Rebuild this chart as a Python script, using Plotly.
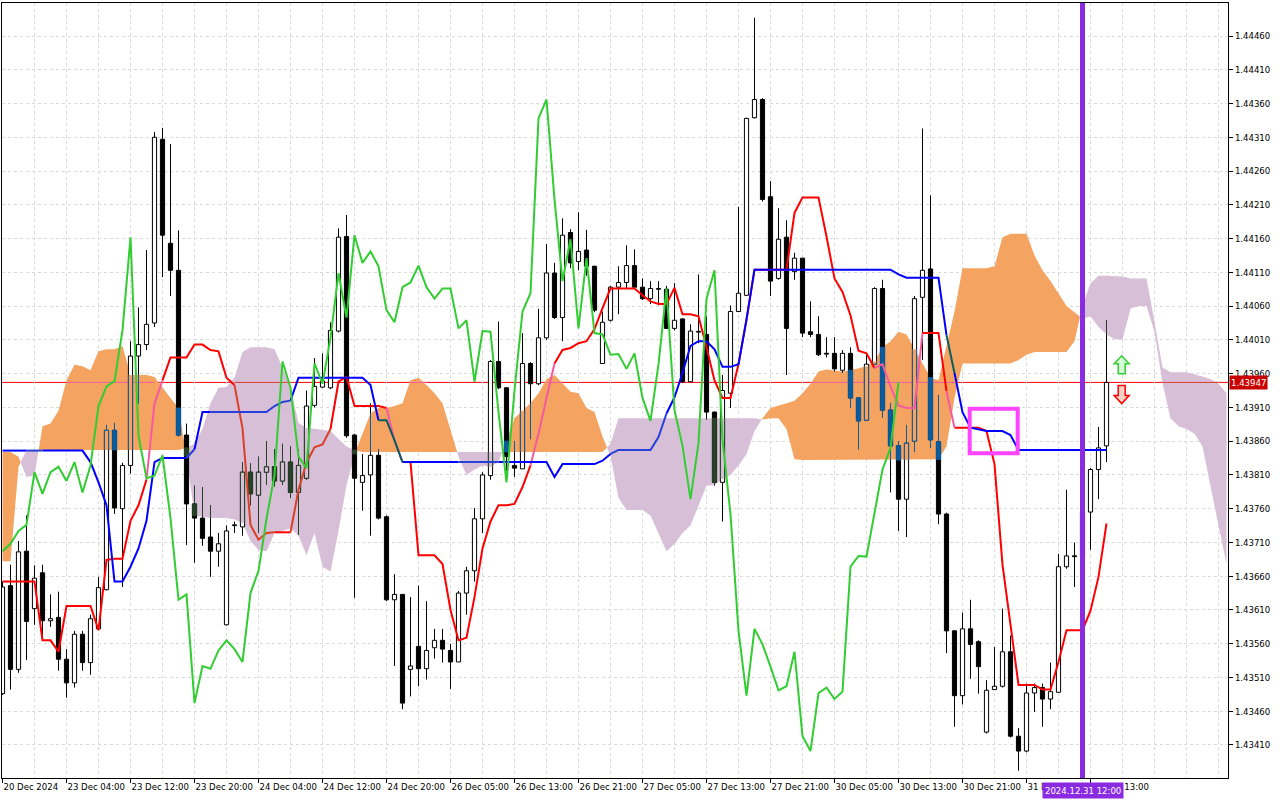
import plotly.graph_objects as go

# hourly candles (20 Dec 2024 20:00 ... 31 Dec 2024 14:00)
opens = [
    1.43486, 1.43646, 1.43522, 1.43697, 1.43612, 1.43665, 1.43594, 1.43599, 1.43537, 1.43502,
    1.43574, 1.43532, 1.43582, 1.43640, 1.43876, 1.43760, 1.43824, 1.43986, 1.44003, 1.44035,
    1.44307, 1.44153, 1.44113, 1.43869, 1.43767, 1.43746, 1.43718, 1.43697, 1.43588, 1.43735,
    1.43733, 1.43814, 1.43780, 1.43814, 1.43822, 1.43801, 1.43829, 1.43784, 1.43805, 1.43913,
    1.43940, 1.43939, 1.44023, 1.44163, 1.43869, 1.43799, 1.43810, 1.43839, 1.43748, 1.43625,
    1.43633, 1.43522, 1.43556, 1.43523, 1.43554, 1.43565, 1.43550, 1.43533, 1.43635, 1.43668,
    1.43745, 1.43809, 1.43978, 1.43939, 1.43824, 1.43819, 1.43975, 1.43945, 1.44013, 1.44109,
    1.44043, 1.44169, 1.44126, 1.44143, 1.44119, 1.43975, 1.44039, 1.44088, 1.44095, 1.44120,
    1.44088, 1.44071, 1.44085, 1.44085, 1.44027, 1.44041, 1.43948, 1.44022, 1.44018, 1.43903,
    1.43799, 1.43931, 1.44052, 1.44076, 1.44339, 1.44366, 1.44222, 1.44101, 1.44162, 1.44111,
    1.44131, 1.44022, 1.44018, 1.43990, 1.43990, 1.43965, 1.43990, 1.43924, 1.43891, 1.43974,
    1.44086, 1.43906, 1.43853, 1.43774, 1.43860, 1.44073, 1.44115, 1.43859, 1.43752, 1.43579,
    1.43483, 1.43582, 1.43563, 1.43429, 1.43492, 1.43497, 1.43548, 1.43423, 1.43401, 1.43487,
    1.43495, 1.43478, 1.43488, 1.43674, 1.43690, 1.43690, 1.43755, 1.43818, 1.43853,
]
highs = [
    1.43652, 1.43677, 1.43712, 1.43750, 1.43676, 1.43677, 1.43633, 1.43637, 1.43552, 1.43579,
    1.43579, 1.43603, 1.43659, 1.43884, 1.43887, 1.43828, 1.44008, 1.44058, 1.44143, 1.44318,
    1.44324, 1.44300, 1.44172, 1.43886, 1.43794, 1.43792, 1.43765, 1.43724, 1.43735, 1.43741,
    1.43829, 1.43827, 1.43837, 1.43860, 1.43848, 1.43856, 1.43852, 1.43848, 1.43935, 1.43983,
    1.43990, 1.44036, 1.44175, 1.44195, 1.43871, 1.43841, 1.43916, 1.43848, 1.43750, 1.43663,
    1.43633, 1.43629, 1.43646, 1.43623, 1.43582, 1.43582, 1.43560, 1.43638, 1.43674, 1.43761,
    1.43814, 1.43980, 1.44037, 1.43940, 1.43860, 1.44020, 1.43977, 1.44056, 1.44152, 1.44124,
    1.44190, 1.44174, 1.44199, 1.44173, 1.44120, 1.44052, 1.44090, 1.44119, 1.44150, 1.44144,
    1.44101, 1.44097, 1.44097, 1.44090, 1.44094, 1.44042, 1.44033, 1.44107, 1.44045, 1.43904,
    1.43958, 1.44061, 1.44207, 1.44339, 1.44487, 1.44368, 1.44245, 1.44205, 1.44187, 1.44139,
    1.44131, 1.44067, 1.44045, 1.44014, 1.44014, 1.43995, 1.43999, 1.43925, 1.43988, 1.44088,
    1.44099, 1.43916, 1.43860, 1.43884, 1.44075, 1.44323, 1.44224, 1.43928, 1.43754, 1.43580,
    1.43606, 1.43625, 1.43565, 1.43506, 1.43555, 1.43612, 1.43572, 1.43435, 1.43501, 1.43501,
    1.43501, 1.43532, 1.43693, 1.43788, 1.43710, 1.43776, 1.43820, 1.43881, 1.44039,
]
lows = [
    1.43484, 1.43492, 1.43517, 1.43536, 1.43588, 1.43572, 1.43585, 1.43520, 1.43480, 1.43495,
    1.43520, 1.43514, 1.43580, 1.43639, 1.43752, 1.43644, 1.43812, 1.43916, 1.43995, 1.44029,
    1.44103, 1.44075, 1.43867, 1.43706, 1.43680, 1.43705, 1.43659, 1.43674, 1.43587, 1.43724,
    1.43720, 1.43765, 1.43724, 1.43795, 1.43793, 1.43795, 1.43776, 1.43721, 1.43803, 1.43910,
    1.43939, 1.43937, 1.44021, 1.43865, 1.43628, 1.43757, 1.43720, 1.43744, 1.43623, 1.43527,
    1.43463, 1.43482, 1.43497, 1.43507, 1.43538, 1.43532, 1.43493, 1.43533, 1.43603, 1.43652,
    1.43724, 1.43803, 1.43937, 1.43816, 1.43807, 1.43819, 1.43863, 1.43943, 1.44010, 1.44041,
    1.44008, 1.44116, 1.44113, 1.44105, 1.44051, 1.43975, 1.44037, 1.44048, 1.44086, 1.44088,
    1.44069, 1.44063, 1.44061, 1.44026, 1.44024, 1.43946, 1.43948, 1.44005, 1.43892, 1.43794,
    1.43741, 1.43909, 1.44051, 1.44075, 1.44338, 1.44215, 1.44075, 1.44099, 1.43958, 1.44099,
    1.44014, 1.44014, 1.43986, 1.43984, 1.43963, 1.43961, 1.43909, 1.43848, 1.43890, 1.43973,
    1.43895, 1.43784, 1.43727, 1.43718, 1.43844, 1.43980, 1.43850, 1.43737, 1.43546, 1.43437,
    1.43470, 1.43508, 1.43486, 1.43427, 1.43492, 1.43495, 1.43421, 1.43372, 1.43399, 1.43459,
    1.43437, 1.43463, 1.43488, 1.43671, 1.43644, 1.43674, 1.43699, 1.43774, 1.43829,
]
closes = [
    1.43644, 1.43522, 1.43696, 1.43593, 1.43657, 1.43594, 1.43597, 1.43537, 1.43502, 1.43574,
    1.43532, 1.43597, 1.43643, 1.43876, 1.43761, 1.43824, 1.43986, 1.44003, 1.44033, 1.44310,
    1.44165, 1.44113, 1.43869, 1.43767, 1.43746, 1.43716, 1.43697, 1.43708, 1.43727, 1.43736,
    1.43814, 1.43782, 1.43814, 1.43822, 1.43801, 1.43829, 1.43784, 1.43824, 1.43912, 1.43941,
    1.43949, 1.44024, 1.44162, 1.43868, 1.43805, 1.43809, 1.43839, 1.43746, 1.43625, 1.43633,
    1.43472, 1.43527, 1.43523, 1.43550, 1.43565, 1.43552, 1.43533, 1.43635, 1.43668, 1.43745,
    1.43810, 1.43978, 1.43939, 1.43837, 1.43820, 1.43975, 1.43945, 1.44013, 1.44109, 1.44043,
    1.44165, 1.44124, 1.44141, 1.44119, 1.44054, 1.44036, 1.44088, 1.44095, 1.44120, 1.44088,
    1.44071, 1.44086, 1.44086, 1.44027, 1.44039, 1.43948, 1.44023, 1.44022, 1.43903, 1.43799,
    1.43935, 1.44052, 1.44079, 1.44338, 1.44366, 1.44218, 1.44097, 1.44159, 1.44027, 1.44131,
    1.44020, 1.44018, 1.43988, 1.43989, 1.43967, 1.43990, 1.43924, 1.43890, 1.43974, 1.44086,
    1.43906, 1.43853, 1.43774, 1.43857, 1.44071, 1.44113, 1.43862, 1.43752, 1.43579, 1.43483,
    1.43582, 1.43559, 1.43526, 1.43491, 1.43497, 1.43548, 1.43423, 1.43401, 1.43487, 1.43495,
    1.43478, 1.43489, 1.43674, 1.43690, 1.43689, 1.43755, 1.43818, 1.43850, 1.43947,
]

# Ichimoku lines, one value per bar
tenkan = [
    1.43652, 1.43652, 1.43652, 1.43652, 1.43652, 1.43565, 1.43565, 1.43548, 1.43616, 1.43616,
    1.43616, 1.43616, 1.43580, 1.43684, 1.43686, 1.43686, 1.43742, 1.43765, 1.43803, 1.43916,
    1.43950, 1.43984, 1.43984, 1.43984, 1.44003, 1.44003, 1.43995, 1.43993, 1.43954, 1.43943,
    1.43879, 1.43736, 1.43714, 1.43724, 1.43725, 1.43725, 1.43725, 1.43788, 1.43828, 1.43851,
    1.43855, 1.43878, 1.43948, 1.43955, 1.43912, 1.43912, 1.43912, 1.43912, 1.43909, 1.43861,
    1.43829, 1.43829, 1.43691, 1.43691, 1.43691, 1.43678, 1.43610, 1.43565, 1.43569, 1.43629,
    1.43701, 1.43741, 1.43765, 1.43765, 1.43767, 1.43792, 1.43824, 1.43871, 1.43924, 1.43975,
    1.43995, 1.43998, 1.44005, 1.44008, 1.44026, 1.44057, 1.44086, 1.44086, 1.44086, 1.44086,
    1.44076, 1.44067, 1.44063, 1.44063, 1.44087, 1.44048, 1.44048, 1.44045, 1.43999, 1.43950,
    1.43924, 1.43924, 1.43974, 1.44040, 1.44114, 1.44114, 1.44114, 1.44114, 1.44114, 1.44198,
    1.44221, 1.44221, 1.44221, 1.44163, 1.44101, 1.44081, 1.44046, 1.43994, 1.43990, 1.43968,
    1.43974, 1.43941, 1.43913, 1.43909, 1.43909, 1.44020, 1.44020, 1.44020, 1.43934, 1.43880,
    1.43880, 1.43880, 1.43880, 1.43875, 1.43826, 1.43677, 1.43588, 1.43499, 1.43499, 1.43499,
    1.43492, 1.43492, 1.43533, 1.43580, 1.43580, 1.43580, 1.43609, 1.43659, 1.43738,
]
kijun = [
    1.43846, 1.43846, 1.43846, 1.43846, 1.43846, 1.43846, 1.43846, 1.43846, 1.43846, 1.43846,
    1.43846, 1.43829, 1.43799, 1.43765, 1.43652, 1.43652, 1.43674, 1.43701, 1.43742, 1.43829,
    1.43835, 1.43835, 1.43835, 1.43835, 1.43848, 1.43903, 1.43903, 1.43903, 1.43903, 1.43903,
    1.43903, 1.43903, 1.43903, 1.43903, 1.43912, 1.43918, 1.43920, 1.43954, 1.43954, 1.43954,
    1.43954, 1.43954, 1.43954, 1.43954, 1.43954, 1.43954, 1.43943, 1.43891, 1.43891, 1.43861,
    1.43829, 1.43829, 1.43829, 1.43829, 1.43829, 1.43829, 1.43829, 1.43829, 1.43829, 1.43829,
    1.43829, 1.43829, 1.43829, 1.43829, 1.43829, 1.43829, 1.43829, 1.43829, 1.43829, 1.43807,
    1.43826, 1.43826, 1.43826, 1.43826, 1.43826, 1.43831, 1.43841, 1.43847, 1.43847, 1.43847,
    1.43847, 1.43847, 1.43866, 1.43901, 1.43925, 1.43961, 1.44001, 1.44008, 1.44008, 1.43996,
    1.43970, 1.43970, 1.43974, 1.44040, 1.44114, 1.44114, 1.44114, 1.44114, 1.44114, 1.44114,
    1.44114, 1.44114, 1.44114, 1.44114, 1.44114, 1.44114, 1.44114, 1.44114, 1.44114, 1.44114,
    1.44114, 1.44114, 1.44107, 1.44102, 1.44102, 1.44102, 1.44102, 1.44102, 1.44017, 1.43961,
    1.43903, 1.43880, 1.43878, 1.43875, 1.43875, 1.43875, 1.43869, 1.43847, 1.43847, 1.43847,
    1.43847, 1.43847, 1.43847, 1.43847, 1.43847, 1.43847, 1.43847, 1.43847, 1.43847,
]
# lagging line, drawn from bar 0 to bar 112
chikou = [
    1.43697, 1.43708, 1.43727, 1.43736, 1.43814, 1.43782, 1.43814, 1.43822, 1.43801, 1.43829,
    1.43784, 1.43824, 1.43912, 1.43941, 1.43949, 1.44024, 1.44162, 1.43868, 1.43805, 1.43809,
    1.43839, 1.43746, 1.43625, 1.43633, 1.43472, 1.43527, 1.43523, 1.43550, 1.43565, 1.43552,
    1.43533, 1.43635, 1.43668, 1.43745, 1.43810, 1.43978, 1.43939, 1.43837, 1.43820, 1.43975,
    1.43945, 1.44013, 1.44109, 1.44043, 1.44165, 1.44124, 1.44141, 1.44119, 1.44054, 1.44036,
    1.44088, 1.44095, 1.44120, 1.44088, 1.44071, 1.44086, 1.44086, 1.44027, 1.44039, 1.43948,
    1.44023, 1.44022, 1.43903, 1.43799, 1.43935, 1.44052, 1.44079, 1.44338, 1.44366, 1.44218,
    1.44097, 1.44159, 1.44027, 1.44131, 1.44020, 1.44018, 1.43988, 1.43989, 1.43967, 1.43990,
    1.43924, 1.43890, 1.43974, 1.44086, 1.43906, 1.43853, 1.43774, 1.43857, 1.44071, 1.44113,
    1.43862, 1.43752, 1.43579, 1.43483, 1.43582, 1.43559, 1.43526, 1.43491, 1.43497, 1.43548,
    1.43423, 1.43401, 1.43487, 1.43495, 1.43478, 1.43489, 1.43674, 1.43690, 1.43689, 1.43755,
    1.43818, 1.43850, 1.43947,
]
# cloud edges, running 26 bars past the last candle
span_a = [
    1.43844, 1.43844, 1.43837, 1.43807, 1.43809, 1.43882, 1.43886, 1.43905, 1.43950, 1.43973,
    1.43971, 1.43965, 1.43993, 1.43996, 1.43996, 1.44001, 1.43958, 1.43958, 1.43958, 1.43955,
    1.43939, 1.43924, 1.43909, 1.43838, 1.43750, 1.43748, 1.43746, 1.43746, 1.43746, 1.43744,
    1.43739, 1.43712, 1.43699, 1.43697, 1.43724, 1.43727, 1.43731, 1.43720, 1.43691, 1.43724,
    1.43674, 1.43667, 1.43727, 1.43795, 1.43841, 1.43871, 1.43901, 1.43909, 1.43909, 1.43912,
    1.43916, 1.43950, 1.43954, 1.43943, 1.43931, 1.43916, 1.43878, 1.43837, 1.43810, 1.43818,
    1.43824, 1.43822, 1.43829, 1.43860, 1.43894, 1.43905, 1.43916, 1.43931, 1.43952, 1.43958,
    1.43945, 1.43933, 1.43931, 1.43909, 1.43903, 1.43867, 1.43838, 1.43776, 1.43758, 1.43758,
    1.43758, 1.43750, 1.43724, 1.43697, 1.43708, 1.43724, 1.43735, 1.43765, 1.43794, 1.43795,
    1.43804, 1.43810, 1.43824, 1.43841, 1.43875, 1.43894, 1.43909, 1.43912, 1.43916, 1.43920,
    1.43931, 1.43945, 1.43963, 1.43966, 1.43965, 1.43963, 1.43965, 1.43968, 1.43971, 1.43978,
    1.43999, 1.44008, 1.44022, 1.44018, 1.43996, 1.43975, 1.43954, 1.43950, 1.43999, 1.44052,
    1.44116, 1.44116, 1.44116, 1.44116, 1.44119, 1.44162, 1.44167, 1.44167, 1.44167, 1.44135,
    1.44113, 1.44097, 1.44079, 1.44060, 1.44051, 1.44041, 1.44045, 1.44029, 1.44018, 1.44011,
    1.44011, 1.44056, 1.44060, 1.44060, 1.44022, 1.43946, 1.43894, 1.43882, 1.43878, 1.43871,
    1.43852, 1.43792, 1.43735, 1.43678,
]
span_b = [
    1.43682, 1.43682, 1.43822, 1.43847, 1.43847, 1.43847, 1.43847, 1.43847, 1.43847, 1.43847,
    1.43847, 1.43847, 1.43847, 1.43847, 1.43847, 1.43847, 1.43847, 1.43847, 1.43847, 1.43847,
    1.43847, 1.43847, 1.43847, 1.43850, 1.43856, 1.43878, 1.43916, 1.43939, 1.43940, 1.43954,
    1.43992, 1.43999, 1.43999, 1.43999, 1.43996, 1.43969, 1.43939, 1.43887, 1.43880, 1.43878,
    1.43877, 1.43875, 1.43863, 1.43852, 1.43847, 1.43844, 1.43844, 1.43844, 1.43844, 1.43844,
    1.43844, 1.43844, 1.43844, 1.43844, 1.43844, 1.43844, 1.43844, 1.43844, 1.43844, 1.43844,
    1.43844, 1.43844, 1.43844, 1.43844, 1.43844, 1.43844, 1.43844, 1.43844, 1.43844, 1.43844,
    1.43844, 1.43844, 1.43844, 1.43844, 1.43844, 1.43844, 1.43856, 1.43894, 1.43894, 1.43894,
    1.43894, 1.43894, 1.43894, 1.43894, 1.43894, 1.43894, 1.43894, 1.43894, 1.43894, 1.43894,
    1.43894, 1.43894, 1.43894, 1.43894, 1.43894, 1.43892, 1.43894, 1.43894, 1.43878, 1.43833,
    1.43832, 1.43832, 1.43832, 1.43832, 1.43832, 1.43832, 1.43832, 1.43832, 1.43832, 1.43832,
    1.43832, 1.43832, 1.43832, 1.43832, 1.43832, 1.43832, 1.43832, 1.43833, 1.43852, 1.43924,
    1.43975, 1.43975, 1.43975, 1.43975, 1.43975, 1.43975, 1.43975, 1.43980, 1.43988, 1.43992,
    1.43992, 1.43992, 1.43992, 1.43992, 1.44008, 1.44060, 1.44094, 1.44105, 1.44105, 1.44105,
    1.44104, 1.44101, 1.44101, 1.44101, 1.44037, 1.43969, 1.43962, 1.43962, 1.43962, 1.43959,
    1.43956, 1.43952, 1.43945, 1.43931,
]

time_labels = [
    "20 Dec 2024", "23 Dec 04:00", "23 Dec 12:00", "23 Dec 20:00", "24 Dec 04:00",
    "24 Dec 12:00", "24 Dec 20:00", "26 Dec 05:00", "26 Dec 13:00", "26 Dec 21:00",
    "27 Dec 05:00", "27 Dec 13:00", "27 Dec 21:00", "30 Dec 05:00", "30 Dec 13:00",
    "30 Dec 21:00", "31 Dec 05:00", "31 Dec 13:00",
]
price_labels = [
    "1.43410", "1.43460", "1.43510", "1.43560", "1.43610", "1.43660", "1.43710", "1.43760",
    "1.43810", "1.43860", "1.43910", "1.43960", "1.44010", "1.44060", "1.44110", "1.44160",
    "1.44210", "1.44260", "1.44310", "1.44360", "1.44410", "1.44460",
]

bid_price = 1.43947
vline_bar = 135
vline_label = "2024.12.31 12:00"
box_bars = (120.9, 126.9)
box_prices = (1.43842, 1.43908)
arrow_bar = 139.9
arrow_prices = (1.43973, 1.43929)

FONT = dict(family="DejaVu Sans Condensed, Liberation Sans, Arial, sans-serif", size=9.5, color="black")
GRID = "#DADADA"
ORANGE = "#F4A460"
THISTLE = "#D8BFD8"
CLOUD = {True: ORANGE, False: THISTLE}
# MT4 paints the cloud in xor mode, so whatever sits under it changes colour
SEEN_BLACK = {True: "#0B5B9F", False: "#274027"}
SEEN_RED = {True: "#F45B9F", False: "#D84027"}
SEEN_BLUE = {True: "#0B5B60", False: "#2740D8"}
BODY_W = 0.52
MIN_BODY = 0.000012

n_bars = len(closes)
bars = list(range(n_bars))
price_ticks = [float(s) for s in price_labels]
major_x = list(range(0, 8 * len(time_labels), 8))
minor_x = [k for k in range(4, len(span_a), 4) if k not in major_x]
half = BODY_W / 2


def cloud_band(i):
    a, b = span_a[i], span_b[i]
    return min(a, b), max(a, b), a > b


def add_rect(xs, ys, i, bot, top):
    xs += [i - half, i + half, i + half, i - half, i - half, None]
    ys += [bot, bot, top, top, bot, None]


def colored_runs(values, normal, seen):
    out = {}
    run_c, run_x, run_y = None, [], []
    for i in range(len(values) - 1):
        m = (values[i] + values[i + 1]) / 2
        a = (span_a[i] + span_a[i + 1]) / 2
        b = (span_b[i] + span_b[i + 1]) / 2
        c = seen[a > b] if min(a, b) < m < max(a, b) else normal
        if c != run_c:
            if run_c is not None:
                xs, ys = out.setdefault(run_c, ([], []))
                xs.extend(run_x + [None])
                ys.extend(run_y + [None])
            run_c, run_x, run_y = c, [i], [values[i]]
        run_x.append(i + 1)
        run_y.append(values[i + 1])
    xs, ys = out.setdefault(run_c, ([], []))
    xs.extend(run_x)
    ys.extend(run_y)
    return out


fig = go.Figure()

# cloud: add the crossing points so the two colours meet cleanly
cx, ca, cb = [], [], []
for i in range(len(span_a)):
    if i:
        d0 = span_a[i - 1] - span_b[i - 1]
        d1 = span_a[i] - span_b[i]
        if d0 * d1 < 0:
            t = d0 / (d0 - d1)
            yc = span_a[i - 1] + t * (span_a[i] - span_a[i - 1])
            cx.append(i - 1 + t)
            ca.append(yc)
            cb.append(yc)
    cx.append(i)
    ca.append(span_a[i])
    cb.append(span_b[i])
upper = [max(a, b) for a, b in zip(ca, cb)]

for lower, color in ((cb, ORANGE), (ca, THISTLE)):
    fig.add_trace(go.Scatter(x=cx, y=lower, mode="lines", line=dict(width=0), hoverinfo="skip"))
    fig.add_trace(go.Scatter(x=cx, y=upper, mode="lines", line=dict(width=0),
                             fill="tonexty", fillcolor=color, hoverinfo="skip"))

# bid line where it runs through the cloud (the rest is a shape below)
bid_runs = colored_runs([bid_price for _ in span_a], "#FF0000", SEEN_RED)
for color, (xs, ys) in bid_runs.items():
    if color != "#FF0000":
        fig.add_trace(go.Scatter(x=xs, y=ys, mode="lines", line=dict(color=color, width=1),
                                 hoverinfo="skip"))

# candles: wicks, then bodies as filled rectangles
wick_x, wick_y = [], []
bear_x, bear_y, bull_x, bull_y = [], [], [], []
for i in bars:
    top, bot = max(opens[i], closes[i]), min(opens[i], closes[i])
    wick_x += [i, i, None, i, i, None]
    wick_y += [highs[i], top, None, bot, lows[i], None]
    h = max(top - bot, MIN_BODY)
    mid = (top + bot) / 2
    if closes[i] < opens[i]:
        add_rect(bear_x, bear_y, i, mid - h / 2, mid + h / 2)
    else:
        add_rect(bull_x, bull_y, i, mid - h / 2, mid + h / 2)
fig.add_trace(go.Scatter(x=wick_x, y=wick_y, mode="lines", line=dict(color="black", width=1),
                         hoverinfo="skip"))
fig.add_trace(go.Scatter(x=bear_x, y=bear_y, mode="lines", fill="toself", fillcolor="black",
                         line=dict(color="black", width=1), hoverinfo="skip"))
fig.add_trace(go.Scatter(x=bull_x, y=bull_y, mode="lines", fill="toself", fillcolor="white",
                         line=dict(color="black", width=1), hoverinfo="skip"))

# the parts of the candles that sit inside the cloud
seen = {k: dict(fx=[], fy=[], wx=[], wy=[], sx=[], sy=[]) for k in (True, False)}
for i in bars:
    lo, hi, is_orange = cloud_band(i)
    d = seen[is_orange]
    top, bot = max(opens[i], closes[i]), min(opens[i], closes[i])
    for a, b in ((top, highs[i]), (lows[i], bot)):
        s, e = max(a, lo), min(b, hi)
        if e > s:
            d["sx"] += [i, i, None]
            d["sy"] += [s, e, None]
    s, e = max(bot, lo), min(top, hi)
    if e > s:
        if closes[i] < opens[i]:
            add_rect(d["fx"], d["fy"], i, s, e)
        else:
            add_rect(d["wx"], d["wy"], i, s, e)
            for xe in (i - half, i + half):
                d["sx"] += [xe, xe, None]
                d["sy"] += [s, e, None]
            for edge in (top, bot):
                if lo < edge < hi:
                    d["sx"] += [i - half, i + half, None]
                    d["sy"] += [edge, edge, None]
for k, d in seen.items():
    if d["wx"]:
        fig.add_trace(go.Scatter(x=d["wx"], y=d["wy"], mode="lines", fill="toself",
                                 fillcolor=CLOUD[k], line=dict(width=0), hoverinfo="skip"))
    if d["fx"]:
        fig.add_trace(go.Scatter(x=d["fx"], y=d["fy"], mode="lines", fill="toself",
                                 fillcolor=SEEN_BLACK[k], line=dict(color=SEEN_BLACK[k], width=1),
                                 hoverinfo="skip"))
    if d["sx"]:
        fig.add_trace(go.Scatter(x=d["sx"], y=d["sy"], mode="lines",
                                 line=dict(color=SEEN_BLACK[k], width=1), hoverinfo="skip"))

# tenkan and kijun
for values, normal, seen_c in ((tenkan, "#FF0000", SEEN_RED), (kijun, "#0000FF", SEEN_BLUE)):
    for color, (xs, ys) in colored_runs(values, normal, seen_c).items():
        fig.add_trace(go.Scatter(x=xs, y=ys, mode="lines", line=dict(color=color, width=2),
                                 hoverinfo="skip"))

# chikou
fig.add_trace(go.Scatter(x=list(range(len(chikou))), y=chikou, mode="lines",
                         line=dict(color="#32CD32", width=2), hoverinfo="skip"))

fig.add_shape(type="line", xref="paper", x0=0, x1=1, yref="y", y0=bid_price, y1=bid_price,
              line=dict(color="#FF0000", width=1), layer="below")
fig.add_shape(type="line", xref="x", x0=vline_bar, x1=vline_bar, yref="paper", y0=0, y1=1,
              line=dict(color="#8A2BE2", width=5), layer="above")
fig.add_shape(type="rect", xref="x", x0=box_bars[0], x1=box_bars[1], yref="y",
              y0=box_prices[0], y1=box_prices[1], line=dict(color="#FF44FF", width=4),
              fillcolor="rgba(0,0,0,0)", layer="above")

# buy / sell arrows next to the last bar (outline drawn in pixels around the anchor)
up_path = "M -3.5 -9 L 3.5 -9 L 3.5 1 L 7.5 1 L 0 9 L -7.5 1 L -3.5 1 Z"
down_path = "M -3.5 9 L 3.5 9 L 3.5 -1 L 7.5 -1 L 0 -9 L -7.5 -1 L -3.5 -1 Z"
for path, price, edge, fill in ((up_path, arrow_prices[0], "#33CC33", "#D6FFD6"),
                                (down_path, arrow_prices[1], "#FF0000", "#FFD2C8")):
    fig.add_shape(type="path", path=path, xref="x", yref="y", xsizemode="pixel",
                  ysizemode="pixel", xanchor=arrow_bar, yanchor=price,
                  line=dict(color=edge, width=1.5), fillcolor=fill, layer="above")

# price and time labels on the axes
fig.add_annotation(x=1, xref="paper", xanchor="left", xshift=1, y=bid_price, yref="y",
                   text="%.5f" % bid_price, showarrow=False, bgcolor="#C80000", borderpad=1,
                   font=dict(FONT, color="white"))
fig.add_annotation(x=vline_bar, xref="x", y=0, yref="paper", yanchor="top", yshift=-4,
                   text=vline_label, showarrow=False, bgcolor="#8A2BE2", borderpad=2,
                   font=dict(FONT, color="white"))

fig.update_layout(
    width=1280, height=800,
    margin=dict(l=2, r=52, t=3, b=22, pad=0),
    paper_bgcolor="white", plot_bgcolor="white",
    showlegend=False,
    xaxis=dict(
        range=[-0.0625, 153.1875], tickmode="array", tickvals=major_x, ticktext=time_labels,
        ticks="outside", ticklen=4, tickcolor="black", ticklabelposition="outside right",
        tickangle=0, tickfont=FONT, showgrid=True, gridcolor=GRID, griddash="3px,3px",
        gridwidth=1,
        minor=dict(tickmode="array", tickvals=minor_x, showgrid=True, gridcolor=GRID,
                   griddash="3px,3px", ticks=""),
        showline=True, linecolor="black", linewidth=1, mirror=True, zeroline=False,
        automargin=False,
    ),
    yaxis=dict(
        side="right", range=[1.433611, 1.445089], tickmode="array", tickvals=price_ticks,
        ticktext=price_labels, ticks="outside", ticklen=4, tickcolor="black", tickfont=FONT,
        showgrid=True, gridcolor=GRID, griddash="3px,3px", gridwidth=1,
        showline=True, linecolor="black", linewidth=1, mirror=True, zeroline=False,
        automargin=False,
    ),
)

# the page body has a default 8px margin; drop it so the chart sits at the window corner
fig.write_html("out.html", config={"displayModeBar": False},
               post_script="document.body.style.margin='0';")
